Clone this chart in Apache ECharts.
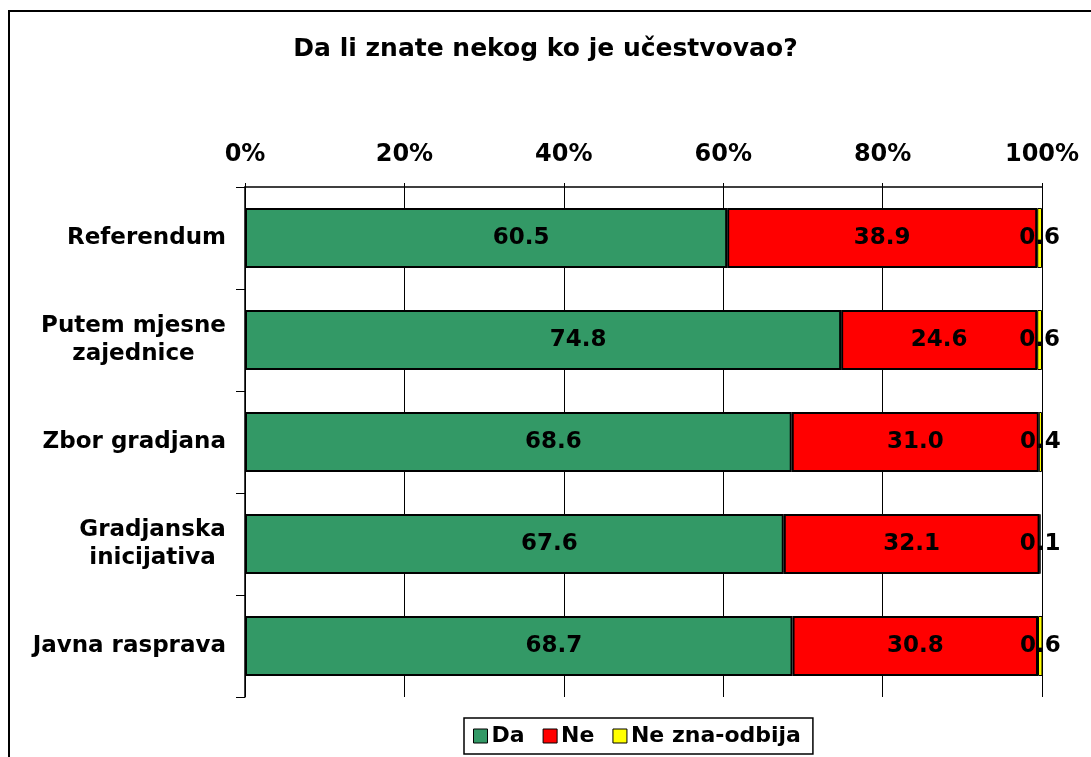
<!DOCTYPE html>
<html>
<head>
<meta charset="utf-8">
<script src="https://cdn.jsdelivr.net/npm/echarts@6/dist/echarts.min.js"></script>
<style>
  html, body { margin: 0; padding: 0; background: #fff; }
  #chart { width: 1091px; height: 757px; }
</style>
</head>
<body>
<div id="chart"></div>
<script>
// podaci
const categories = ["Referendum", "Putem mjesne\nzajednice", "Zbor gradjana", "Gradjanska\ninicijativa", "Javna rasprava"];
const dataDa = [60.5, 74.8, 68.6, 67.6, 68.7];
const dataNe = [38.9, 24.6, 31.0, 32.1, 30.8];
const dataNeZna = [0.6, 0.6, 0.4, 0.1, 0.6];
const seriesNames = ["Da", "Ne", "Ne zna-odbija"];
const colors = ["#339966", "#FF0000", "#FFFF00"];

const fontFamily = "'DejaVu Sans', Verdana, sans-serif";
const catFont = 23;

// sirina najduzeg reda, da bi redovi bili centrirani unutar bloka
const measureCtx = document.createElement("canvas").getContext("2d");
measureCtx.font = "bold " + catFont + "px " + fontFamily;
function blockWidth(lines) {
  return Math.ceil(Math.max(...lines.map((l) => measureCtx.measureText(l).width)));
}

const myChart = echarts.init(document.getElementById("chart"));

function makeSeries(name, data, borderWidth, labelOffset) {
  return {
    name: name,
    type: "bar",
    stack: "total",
    barWidth: 60,
    data: data,
    itemStyle: { borderColor: "#000", borderWidth: borderWidth },
    label: {
      show: true,
      position: "inside",
      offset: labelOffset,
      color: "#000",
      fontFamily: fontFamily,
      fontWeight: "bold",
      fontSize: 23,
      formatter: (p) => p.value.toFixed(1),
    },
  };
}

const rich = {};
const catLabels = categories.map((c, i) => {
  const lines = c.split("\n");
  if (lines.length === 1) return c;
  const key = "c" + i;
  rich[key] = {
    width: blockWidth(lines),
    align: "center",
    fontFamily: fontFamily,
    fontWeight: "bold",
    fontSize: catFont,
    lineHeight: 28,
    color: "#000",
  };
  return lines.map((l) => "{" + key + "|" + l + "}").join("\n");
});

const option = {
  animation: false,
  color: colors,
  title: {
    text: "Da li znate nekog ko je učestvovao?",
    left: "center",
    top: 32,
    textStyle: { fontFamily: fontFamily, fontWeight: "bold", fontSize: 25, color: "#000" },
  },
  legend: {
    bottom: 3,
    left: 464,
    icon: "rect",
    itemWidth: 14,
    itemHeight: 14,
    itemGap: 18,
    padding: [7, 12, 7, 9],
    borderColor: "#000",
    borderWidth: 1.5,
    itemStyle: { borderColor: "#000", borderWidth: 1 },
    textStyle: { fontFamily: fontFamily, fontWeight: "bold", fontSize: 22, color: "#000", padding: [0, 0, 0, -1] },
  },
  grid: { left: 245, right: 49, top: 187, bottom: 60 },
  xAxis: {
    type: "value",
    position: "top",
    min: 0,
    max: 100,
    interval: 20,
    axisLine: { show: true, lineStyle: { color: "#000", width: 1.5 } },
    axisTick: { show: true, length: 4, lineStyle: { color: "#000" } },
    axisLabel: {
      formatter: "{value}%",
      margin: 20,
      color: "#000",
      fontFamily: fontFamily,
      fontWeight: "bold",
      fontSize: 24,
    },
    splitLine: { show: true, lineStyle: { color: "#000", width: 1 } },
  },
  yAxis: {
    type: "category",
    inverse: true,
    data: categories,
    axisLine: { show: true, lineStyle: { color: "#000", width: 1.5 } },
    axisTick: { show: true, length: 9, lineStyle: { color: "#000" } },
    axisLabel: {
      margin: 19,
      color: "#000",
      fontFamily: fontFamily,
      fontWeight: "bold",
      fontSize: catFont,
      lineHeight: 28,
      formatter: (v, i) => catLabels[i],
      rich: rich,
    },
  },
  series: [
    makeSeries(seriesNames[0], dataDa, 2, [35, 0]),
    makeSeries(seriesNames[1], dataNe, 2, [0, 0]),
    makeSeries(seriesNames[2], dataNeZna, 1, [0, 0]),
  ],
  graphic: [
    {
      type: "rect",
      shape: { x: 9, y: 11, width: 1200, height: 900 },
      style: { fill: "none", stroke: "#000", lineWidth: 2 },
      silent: true,
    },
  ],
};

myChart.setOption(option);
</script>
</body>
</html>
